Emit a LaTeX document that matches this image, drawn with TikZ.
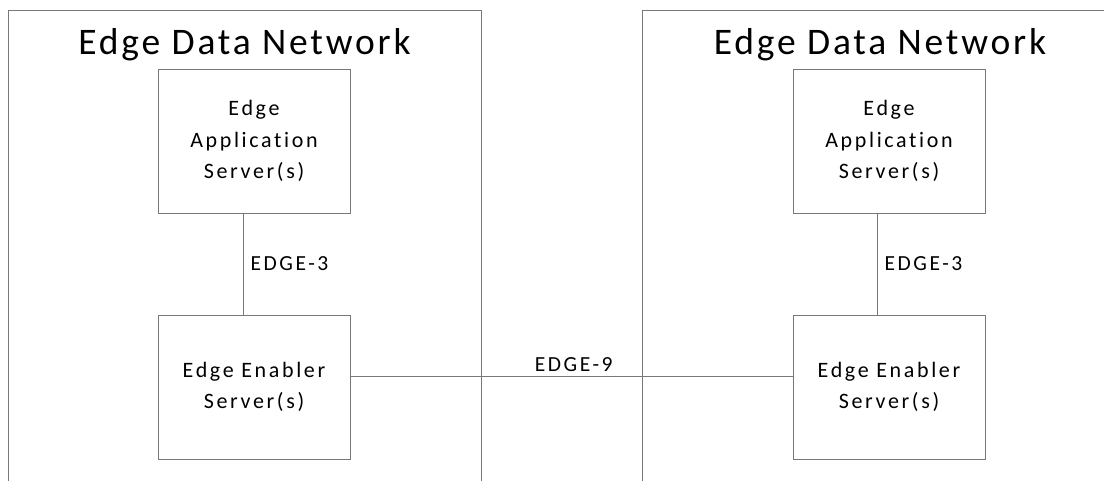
\documentclass[tikz,border=0pt]{standalone}
\usepackage{fontspec}
\setmainfont{Carlito}[LetterSpace=12, Ligatures=NoCommon]
\newfontfamily\titlefont{Carlito}[LetterSpace=7.5, Ligatures=NoCommon]
\usepackage{tikz}
\definecolor{linegray}{RGB}{120,120,120}
\tikzset{
  netbox/.style={draw=linegray, line width=1pt, minimum width=#1, minimum height=520pt, inner sep=0pt},
  srvbox/.style={draw=linegray, line width=1pt, fill=white, minimum width=192pt, minimum height=144pt,
    align=center, inner sep=0pt, font=\fontsize{22}{31.5}\selectfont},
  nettitle/.style={anchor=base, font=\titlefont\fontsize{37.5}{44}\selectfont},
  iflabel/.style={font=\fontsize{21.5}{26}\selectfont, inner sep=0pt},
  ifline/.style={draw=linegray, line width=1pt}
}
\begin{document}
\begin{tikzpicture}[x=1pt, y=-1pt]
    \clip (0,0) rectangle (1104,480);
    \fill[white] (0,0) rectangle (1104,480);
    % edge data networks
    \node[netbox=473pt] (ldn) at (244.5,270) {};
    \node[netbox=476pt] (rdn) at (880,270) {};
    \node[nettitle] (ldntitle) at (244.5,54) {Edge Data Network};
    \node[nettitle] (rdntitle) at (880,54) {Edge Data Network};
    % servers
    \node[srvbox] (las) at (254,141) {Edge\\Application\\Server(s)};
    \node[srvbox] (lees) at (254,387) {Edge Enabler\\Server(s)};
    \node[srvbox] (ras) at (889,141) {Edge\\Application\\Server(s)};
    \node[srvbox] (rees) at (889,387) {Edge Enabler\\Server(s)};
    % reference points
    \draw[ifline] ([xshift=-11pt]las.south) -- ([xshift=-11pt]lees.north)
        node[iflabel, midway, right=7pt] (le3) {EDGE-3};
    \draw[ifline] ([xshift=-12pt]ras.south) -- ([xshift=-12pt]rees.north)
        node[iflabel, midway, right=7pt] (re3) {EDGE-3};
    \draw[ifline] ([yshift=11pt]lees.east) -- ([yshift=11pt]rees.west)
        node[iflabel, pos=0.505, above=4pt] (e9) {EDGE-9};
\end{tikzpicture}
\end{document}
